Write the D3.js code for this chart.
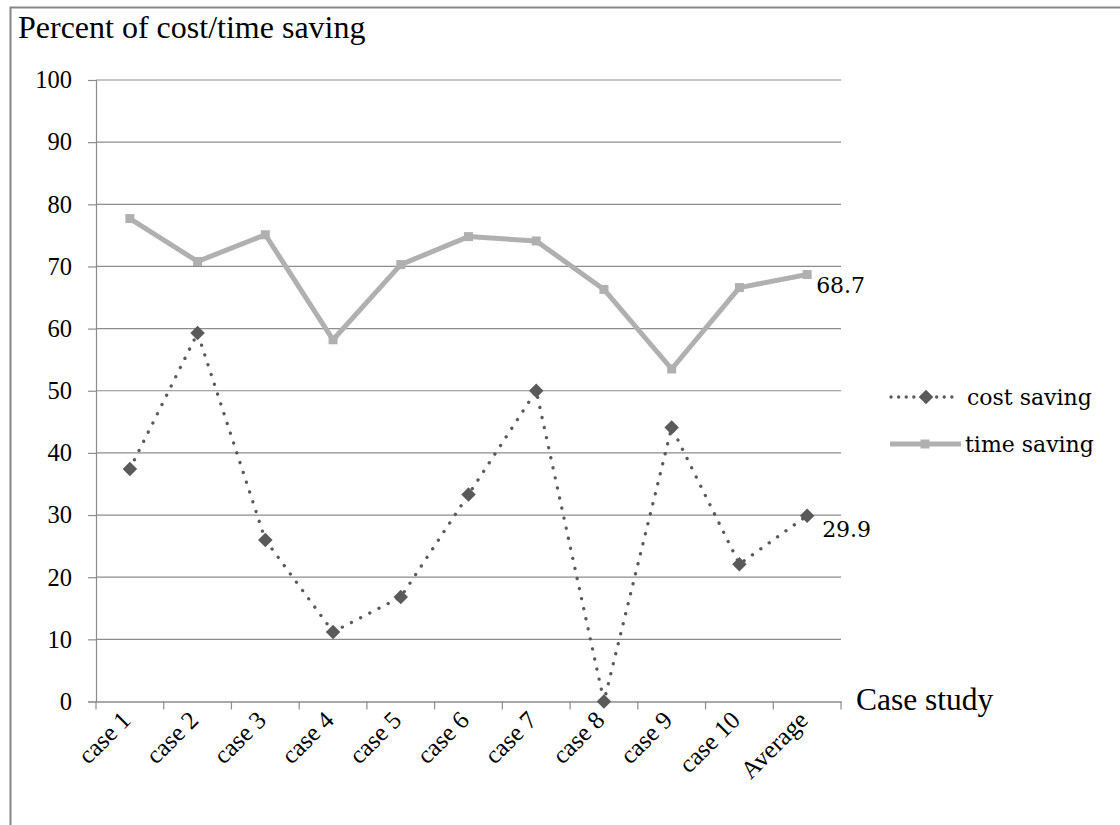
<!DOCTYPE html>
<html>
<head>
<meta charset="utf-8">
<script src="https://cdn.jsdelivr.net/npm/d3@7"></script>
<style>
  html, body { margin: 0; padding: 0; background: #fff; }
  svg { display: block; }
</style>
</head>
<body>
<svg id="chart" width="1120" height="825"></svg>
<script>
const categories = ["case 1","case 2","case 3","case 4","case 5","case 6","case 7","case 8","case 9","case 10","Average"];
const costSaving = [37.4, 59.3, 26.0, 11.2, 16.8, 33.3, 50.0, 0.0, 44.1, 22.1, 29.9];
const timeSaving = [77.7, 70.8, 75.1, 58.2, 70.3, 74.8, 74.1, 66.3, 53.5, 66.6, 68.7];
const yTicks = [0,10,20,30,40,50,60,70,80,90,100];
const seriesNames = ["cost saving", "time saving"];
const titleText = "Percent of cost/time saving";
const xAxisTitle = "Case study";

const svg = d3.select("#chart");
const serif = "'Liberation Serif','Times New Roman',Times,serif";
const legendFont = "'DejaVu Serif',Cambria,serif";

const x = d3.scaleBand().domain(categories).range([96, 841]);
const y = d3.scaleLinear().domain([0, 100]).range([701.5, 80]);
const cx = d => x(d) + x.bandwidth() / 2;

// frame
svg.append("rect").attr("x", 10.5).attr("y", 7.5).attr("width", 1130).attr("height", 840)
  .attr("fill", "none").attr("stroke", "#868686").attr("stroke-width", 2);

// title
svg.append("text").attr("x", 18).attr("y", 38).text(titleText)
  .attr("font-family", serif).attr("font-size", 32).attr("fill", "#000");

// gridlines
svg.append("g").selectAll("line").data(yTicks.filter(t => t > 0)).join("line")
  .attr("x1", 96).attr("x2", 841).attr("y1", d => y(d)).attr("y2", d => y(d))
  .attr("stroke", "#8c8c8c").attr("stroke-width", 1.2);

// y axis
const yAxis = d3.axisLeft(y).tickValues(yTicks).tickSize(8).tickPadding(16).tickFormat(d3.format("d"));
const gy = svg.append("g").attr("transform", "translate(96,0)").call(yAxis);
gy.select(".domain").attr("stroke", "#8c8c8c").attr("stroke-width", 1.2);
gy.selectAll(".tick line").attr("stroke", "#8c8c8c").attr("stroke-width", 1.2);
gy.selectAll("text").attr("font-family", serif).attr("font-size", 24.5).attr("fill", "#000");

// x axis
const xAxis = d3.axisBottom(x).tickSize(0).tickFormat("");
const gx = svg.append("g").attr("transform", `translate(0,${y(0)})`).call(xAxis);
gx.select(".domain").attr("stroke", "#8c8c8c").attr("stroke-width", 1.5);
gx.selectAll(".tick").remove();
const bounds = categories.map(c => x(c)).concat([x.range()[1]]);
svg.append("g").selectAll("line").data(bounds).join("line")
  .attr("x1", d => d).attr("x2", d => d).attr("y1", y(0)).attr("y2", y(0) + 8)
  .attr("stroke", "#8c8c8c").attr("stroke-width", 1.2);
svg.append("g").selectAll("text").data(categories).join("text")
  .attr("transform", d => `translate(${cx(d) - 4},${y(0) + 14}) rotate(-45)`)
  .attr("text-anchor", "end").attr("dy", "0.35em")
  .attr("font-family", serif).attr("font-size", 25).attr("fill", "#000")
  .text(d => d);

svg.append("text").attr("x", 856).attr("y", 710).text(xAxisTitle)
  .attr("font-family", serif).attr("font-size", 31.5).attr("fill", "#000");

// lines
const line = vals => d3.line().x((d, i) => cx(categories[i])).y(d => y(d))(vals);
const timeColor = "#b0b0b0";
const costColor = "#5a5a5a";

svg.append("path").attr("d", line(timeSaving)).attr("fill", "none")
  .attr("stroke", timeColor).attr("stroke-width", 5).attr("stroke-linejoin", "round");
svg.append("g").selectAll("rect").data(timeSaving).join("rect")
  .attr("x", (d, i) => cx(categories[i]) - 4.5).attr("y", d => y(d) - 4.5)
  .attr("width", 9).attr("height", 9).attr("fill", timeColor);

svg.append("path").attr("d", line(costSaving)).attr("fill", "none")
  .attr("stroke", costColor).attr("stroke-width", 3.3).attr("stroke-linecap", "round")
  .attr("stroke-dasharray", "0.1 10.2");
svg.append("g").selectAll("path").data(costSaving).join("path")
  .attr("transform", (d, i) => `translate(${cx(categories[i])},${y(d)}) rotate(45)`)
  .attr("d", d3.symbol().type(d3.symbolSquare).size(105)).attr("fill", costColor);

// data labels for Average
const last = categories.length - 1;
svg.append("text").attr("x", cx(categories[last]) + 9).attr("y", y(timeSaving[last]) + 18)
  .text(timeSaving[last].toFixed(1)).attr("font-family", legendFont).attr("font-size", 22).attr("fill", "#000");
svg.append("text").attr("x", cx(categories[last]) + 15).attr("y", y(costSaving[last]) + 21)
  .text(costSaving[last].toFixed(1)).attr("font-family", legendFont).attr("font-size", 22).attr("fill", "#000");

// legend
const lg = svg.append("g");
lg.append("line").attr("x1", 891).attr("x2", 957).attr("y1", 397).attr("y2", 397)
  .attr("stroke", costColor).attr("stroke-width", 3.3).attr("stroke-linecap", "round").attr("stroke-dasharray", "0.1 7.5");
lg.append("path").attr("transform", "translate(926,397) rotate(45)")
  .attr("d", d3.symbol().type(d3.symbolSquare).size(105)).attr("fill", costColor);
lg.append("text").attr("x", 967).attr("y", 405).text(seriesNames[0])
  .attr("font-family", legendFont).attr("font-size", 22).attr("fill", "#000");
lg.append("line").attr("x1", 890).attr("x2", 961).attr("y1", 444).attr("y2", 444)
  .attr("stroke", timeColor).attr("stroke-width", 5);
lg.append("rect").attr("x", 920.5).attr("y", 439.5).attr("width", 9).attr("height", 9).attr("fill", timeColor);
lg.append("text").attr("x", 965).attr("y", 452).text(seriesNames[1])
  .attr("font-family", legendFont).attr("font-size", 22).attr("fill", "#000");
</script>
</body>
</html>
